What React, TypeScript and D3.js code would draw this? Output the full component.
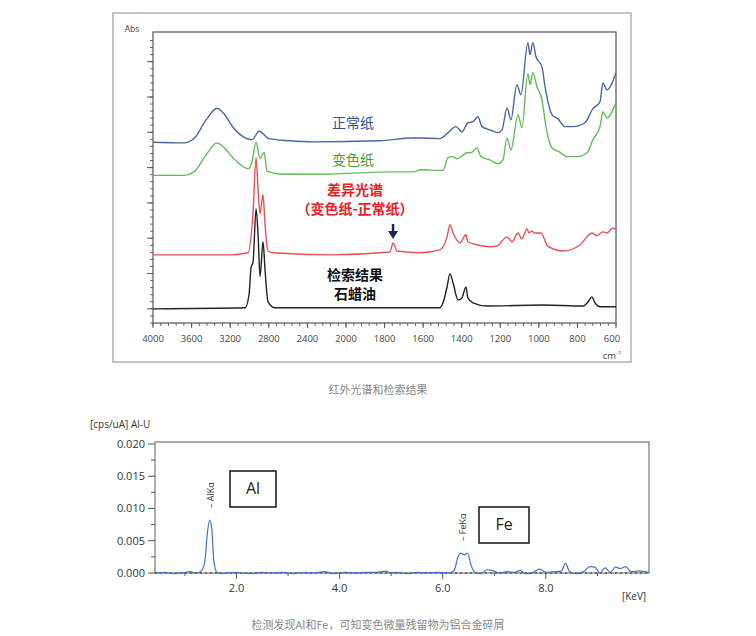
import React from "react";
import * as d3 from "d3";

// IR spectra, [wavenumber cm-1, absorbance offset units]
const normalPaper: [number, number][] = [
  [4000, 4.72], [3679, 4.7], [3570, 4.84], [3450, 5.35], [3336, 5.68], [3274, 5.55],
  [3150, 5.07], [2974, 4.79], [2901, 5.03], [2797, 4.82], [2580, 4.76], [2341, 4.73],
  [1828, 4.76], [1653, 4.84], [1616, 4.84], [1513, 4.82], [1471, 4.99], [1430, 5.16],
  [1399, 5.01], [1368, 5.27], [1342, 5.3], [1316, 5.44], [1295, 5.16], [1254, 5.07],
  [1212, 4.99], [1191, 5.07], [1165, 5.69], [1145, 5.35], [1114, 6.35], [1093, 6.06],
  [1057, 7.54], [1046, 7.2], [1031, 7.54], [1015, 7.14], [984, 6.86], [968, 6.29],
  [932, 5.5], [901, 5.38], [865, 5.16], [823, 5.16], [761, 5.27], [720, 5.67],
  [683, 5.86], [668, 6.4], [647, 6.2], [600, 6.69],
];

const discolouredPaper: [number, number][] = [
  [4000, 3.78], [3679, 3.78], [3575, 3.88], [3450, 4.36], [3336, 4.7], [3274, 4.59],
  [3150, 4.22], [3010, 3.97], [2974, 4.16], [2932, 4.72], [2891, 4.26], [2849, 4.43],
  [2818, 3.9], [2683, 3.82], [2341, 3.81], [1751, 3.88], [1648, 3.88], [1616, 3.94],
  [1497, 3.92], [1471, 4.28], [1445, 4.31], [1425, 4.25], [1399, 4.33], [1373, 4.42],
  [1357, 4.42], [1342, 4.45], [1321, 4.56], [1300, 4.31], [1254, 4.22], [1212, 4.11],
  [1186, 4.22], [1165, 4.84], [1145, 4.5], [1108, 5.5], [1088, 5.13], [1057, 6.66],
  [1046, 6.35], [1031, 6.69], [1010, 6.29], [984, 5.92], [963, 5.16], [932, 4.56],
  [896, 4.45], [854, 4.31], [802, 4.31], [750, 4.42], [720, 4.79], [683, 5.16],
  [668, 5.58], [647, 5.41], [600, 5.86],
];

const difference: [number, number][] = [
  [4000, 1.53], [3202, 1.53], [3015, 1.59], [2963, 2.75], [2932, 4.28], [2911, 3.37],
  [2891, 2.69], [2860, 3.23], [2839, 2.38], [2808, 1.64], [2756, 1.59], [2165, 1.53],
  [1772, 1.61], [1756, 1.87], [1736, 1.64], [1616, 1.59], [1513, 1.67], [1476, 2.04],
  [1461, 2.38], [1445, 2.15], [1409, 1.87], [1378, 2.1], [1368, 1.9], [1316, 1.81],
  [1254, 1.76], [1217, 1.78], [1165, 2.04], [1139, 1.9], [1108, 2.15], [1088, 1.98],
  [1062, 2.27], [1051, 2.15], [1036, 2.21], [1025, 2.15], [1010, 2.15], [989, 2.15],
  [958, 1.81], [927, 1.7], [875, 1.64], [787, 1.81], [725, 2.15], [699, 2.07],
  [668, 2.18], [647, 2.15], [616, 2.29], [600, 2.24],
];

const paraffin: [number, number][] = [
  [4000, 0.0], [3046, 0.03], [3005, 0.4], [2984, 1.16], [2963, 1.33], [2932, 2.83],
  [2911, 2.1], [2891, 0.91], [2860, 1.9], [2839, 1.1], [2808, 0.2], [2735, 0.03],
  [1513, 0.03], [1497, 0.17], [1476, 0.62], [1461, 0.99], [1445, 0.74], [1419, 0.25],
  [1399, 0.31], [1378, 0.62], [1368, 0.31], [1342, 0.17], [1269, 0.08], [979, 0.11],
  [771, 0.08], [745, 0.2], [725, 0.34], [709, 0.17], [683, 0.06], [600, 0.06],
];

const IR_X_TICKS = [4000, 3600, 3200, 2800, 2400, 2000, 1800, 1600, 1400, 1200, 1000, 800, 600];
const IR_Y_MAJOR = [0, 1, 2, 3, 4, 5, 6, 7];

// EDX spectrum, [keV, cps/uA]
const edxSpectrum: [number, number][] = [
  [0.42, 0.0], [0.6, 0.0001], [0.8, -0.0001], [1.0, 0.0001], [1.1, 0.0002], [1.2, 0.0],
  [1.3, 0.0002], [1.38, 0.0015], [1.44, 0.0065], [1.48, 0.0082], [1.52, 0.007], [1.56, 0.002],
  [1.62, 0.0001], [1.7, -0.0001], [1.9, 0.0001], [2.1, 0.0], [2.3, -0.0001], [2.5, 0.0001],
  [2.7, 0.0], [2.9, 0.0001], [3.1, -0.0001], [3.3, 0.0001], [3.5, 0.0], [3.7, 0.0002],
  [3.9, -0.0001], [4.1, 0.0001], [4.3, 0.0], [4.5, 0.0001], [4.7, 0.0001], [4.9, 0.0003],
  [5.0, 0.0], [5.1, 0.0001], [5.3, -0.0001], [5.5, 0.0001], [5.7, 0.0], [5.9, 0.0001],
  [6.1, 0.0], [6.22, 0.0004], [6.3, 0.0026], [6.36, 0.0031], [6.42, 0.0028], [6.48, 0.0031],
  [6.55, 0.0012], [6.62, 0.0001], [6.75, -0.0001], [6.85, 0.0005], [6.95, 0.0004], [7.1, 0.0],
  [7.25, 0.0002], [7.4, 0.0001], [7.5, 0.0004], [7.6, -0.0001], [7.75, 0.0001], [7.88, 0.0006],
  [8.0, 0.0001], [8.15, 0.0002], [8.3, 0.0003], [8.38, 0.0015], [8.46, 0.0002], [8.6, -0.0001],
  [8.75, 0.0003], [8.85, 0.001], [8.95, 0.0009], [9.05, 0.0], [9.15, 0.0008], [9.25, 0.0001],
  [9.35, 0.0009], [9.45, 0.0007], [9.55, 0.001], [9.65, 0.0002], [9.8, 0.0003], [10.0, 0.0001],
];

const EDX_X_TICKS = [2, 4, 6, 8];
const EDX_X_MINOR = [1, 3, 5, 7, 9];
const EDX_Y_TICKS = [0, 0.005, 0.01, 0.015, 0.02];
const EDX_Y_MINOR = [0.0025, 0.0075, 0.0125, 0.0175];

const CJK = "'Noto Sans CJK SC', 'Noto Sans', sans-serif";
const LATIN = "'Open Sans', 'Liberation Sans', sans-serif";

const App = () => {
  // top chart: IR, axis changes scale at 2000 cm-1
  const x = d3.scaleLinear().domain([4000, 2000, 600]).range([153, 346, 616]);
  const y = d3.scaleLinear().domain([-0.4, 7.84]).range([323, 32]);
  const irLine = d3
    .line<[number, number]>()
    .x((d) => x(d[0]))
    .y((d) => y(d[1]))
    .curve(d3.curveMonotoneX);

  const irMinorX = [...d3.range(4000, 2000, -80), ...d3.range(2000, 599, -40)];
  const irMinorY = d3.range(-0.4, 7.8, 0.2);

  // bottom chart: EDX
  const ex = d3.scaleLinear().domain([0.42, 10]).range([155, 649]);
  const ey = d3.scaleLinear().domain([0, 0.0203]).range([573, 442]);
  const edxLine = d3
    .line<[number, number]>()
    .x((d) => ex(d[0]))
    .y((d) => ey(d[1]))
    .curve(d3.curveMonotoneX);

  const traces = [
    { data: normalPaper, color: "#4964a8" },
    { data: discolouredPaper, color: "#64b95a" },
    { data: difference, color: "#e65353" },
    { data: paraffin, color: "#222" },
  ];

  return (
    <svg
      width={756}
      height={636}
      style={{ position: "absolute", left: 0, top: 0, background: "#fff" }}
    >
      {/* ---------- IR chart ---------- */}
      <rect x={113} y={13} width={518} height={349} fill="none" stroke="#b4b4b4" strokeWidth={1.6} />
      <rect x={153} y={32} width={463} height={291} fill="none" stroke="#555" strokeWidth={1.2} />
      <text x={132} y={32} fontFamily={LATIN} fontSize={8.5} fill="#444" textAnchor="middle">
        Abs
      </text>

      {irMinorY.map((v) => (
        <line key={"ym" + v} x1={150} x2={153} y1={y(v)} y2={y(v)} stroke="#555" strokeWidth={0.9} />
      ))}
      {IR_Y_MAJOR.map((v) => (
        <line key={"yM" + v} x1={147} x2={153} y1={y(v)} y2={y(v)} stroke="#555" strokeWidth={1} />
      ))}
      {irMinorX.map((v) => (
        <line key={"xm" + v} x1={x(v)} x2={x(v)} y1={323} y2={326} stroke="#555" strokeWidth={0.9} />
      ))}
      {IR_X_TICKS.map((v) => (
        <g key={"xM" + v}>
          <line x1={x(v)} x2={x(v)} y1={323} y2={328} stroke="#555" strokeWidth={1} />
          <text
            x={x(v) - (v === 600 ? 4 : 0)}
            y={342}
            fontFamily={LATIN}
            fontSize={9.5}
            fill="#444"
            textAnchor="middle"
          >
            {v}
          </text>
        </g>
      ))}
      <text x={612} y={359} fontFamily={LATIN} fontSize={9.5} fill="#444" textAnchor="middle">
        cm<tspan fontSize={6} dy={-4}>-1</tspan>
      </text>

      {traces.map((t, i) => (
        <path key={i} d={irLine(t.data) || ""} fill="none" stroke={t.color} strokeWidth={1.4} />
      ))}

      <text x={353} y={128} fontFamily={CJK} fontSize={14} fill="#34509a" textAnchor="middle">
        正常纸
      </text>
      <text x={353} y={165} fontFamily={CJK} fontSize={14} fill="#4c9a3c" textAnchor="middle">
        变色纸
      </text>
      <text x={355} y={195} fontFamily={CJK} fontSize={14} fontWeight="bold" fill="#e8201f" textAnchor="middle">
        差异光谱
      </text>
      <text x={355} y={214} fontFamily={CJK} fontSize={14} fontWeight="bold" fill="#e8201f" textAnchor="middle">
        （变色纸-正常纸）
      </text>
      <text x={355} y={280} fontFamily={CJK} fontSize={14} fontWeight="bold" fill="#111" textAnchor="middle">
        检索结果
      </text>
      <text x={355} y={299} fontFamily={CJK} fontSize={14} fontWeight="bold" fill="#111" textAnchor="middle">
        石蜡油
      </text>

      {/* arrow over the 1740 cm-1 band */}
      <line x1={x(1756)} x2={x(1756)} y1={224} y2={233} stroke="#1d2a4d" strokeWidth={2.5} />
      <path
        d={`M${x(1756) - 5},${231} L${x(1756) + 5},${231} L${x(1756)},${239} Z`}
        fill="#1d2a4d"
      />

      <text x={378} y={394} fontFamily={CJK} fontSize={11} fill="#888" textAnchor="middle">
        红外光谱和检索结果
      </text>

      {/* ---------- EDX chart ---------- */}
      <text x={90} y={428} fontFamily={LATIN} fontSize={10} fill="#333">
        [cps/uA] Al-U
      </text>
      <rect x={155} y={442} width={494} height={131} fill="none" stroke="#777" strokeWidth={1.2} />

      {EDX_Y_MINOR.map((v) => (
        <line key={"eym" + v} x1={151} x2={155} y1={ey(v)} y2={ey(v)} stroke="#555" />
      ))}
      {EDX_Y_TICKS.map((v) => (
        <g key={"ey" + v}>
          <line x1={148} x2={155} y1={ey(v)} y2={ey(v)} stroke="#555" />
          <text
            x={145}
            y={ey(v)}
            dy="0.35em"
            fontFamily={LATIN}
            fontSize={11}
            fill="#333"
            textAnchor="end"
          >
            {d3.format(".3f")(v)}
          </text>
        </g>
      ))}
      {EDX_X_MINOR.map((v) => (
        <line key={"exm" + v} x1={ex(v)} x2={ex(v)} y1={573} y2={576} stroke="#555" />
      ))}
      {EDX_X_TICKS.map((v) => (
        <g key={"ex" + v}>
          <line x1={ex(v)} x2={ex(v)} y1={573} y2={579} stroke="#555" />
          <text x={ex(v)} y={592} fontFamily={LATIN} fontSize={11} fill="#333" textAnchor="middle">
            {d3.format(".1f")(v)}
          </text>
        </g>
      ))}
      <text x={634} y={600} fontFamily={LATIN} fontSize={10} fill="#333" textAnchor="middle">
        [KeV]
      </text>

      <line
        x1={ex(0.42)}
        x2={ex(10)}
        y1={ey(0)}
        y2={ey(0)}
        stroke="#333"
        strokeWidth={1.3}
        strokeDasharray="2 3"
        opacity={0.7}
      />
      <path d={edxLine(edxSpectrum) || ""} fill="none" stroke="#4a72c4" strokeWidth={1.2} />

      <text
        transform={`translate(${ex(1.5) + 3},${508}) rotate(-90)`}
        fontFamily={LATIN}
        fontSize={9}
        fill="#333"
      >
        – AlKα
      </text>
      <text
        transform={`translate(${ex(6.4) + 3},${541}) rotate(-90)`}
        fontFamily={LATIN}
        fontSize={9}
        fill="#333"
      >
        – FeKα
      </text>

      <rect x={230} y={471} width={46} height={36} fill="#fff" stroke="#222" strokeWidth={1.6} />
      <text x={253} y={494} fontFamily={LATIN} fontSize={16} fill="#222" textAnchor="middle">
        Al
      </text>
      <rect x={479} y={507} width={50} height={36} fill="#fff" stroke="#222" strokeWidth={1.6} />
      <text x={504} y={530} fontFamily={LATIN} fontSize={16} fill="#222" textAnchor="middle">
        Fe
      </text>

      <text x={378} y={629} fontFamily={CJK} fontSize={11} fill="#888" textAnchor="middle">
        检测发现Al和Fe，可知变色微量残留物为铝合金碎屑
      </text>
    </svg>
  );
};

export default App;
